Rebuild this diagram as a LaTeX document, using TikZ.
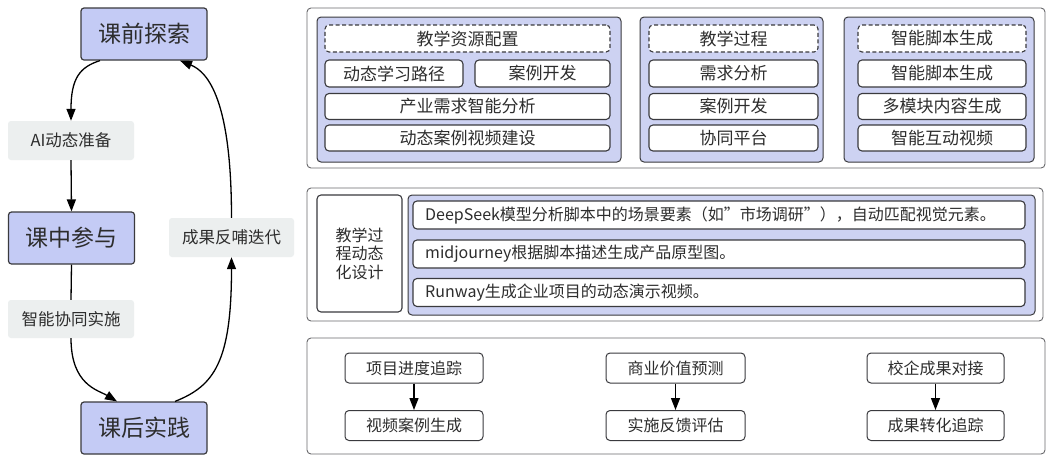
\documentclass[tikz,border=0pt]{standalone}
\usepackage{fontspec}
\setmainfont{Noto Sans CJK SC}
\usetikzlibrary{arrows.meta,calc}
\definecolor{bluefill}{RGB}{196,203,245}
\definecolor{grpfill}{RGB}{205,210,242}
\definecolor{lblfill}{RGB}{236,239,239}
\definecolor{edgec}{RGB}{58,58,62}
\definecolor{panelc}{RGB}{105,105,108}
\definecolor{txt}{RGB}{45,45,45}
\begin{document}
\begin{tikzpicture}[x=1pt,y=-1pt,
  stage/.style={draw=edgec, line width=1.2pt, fill=bluefill, rounded corners=3pt, inner sep=0pt, text=txt, font=\fontsize{23}{26}\selectfont},
  lbl/.style={fill=lblfill, rounded corners=3pt, inner sep=0pt, text=txt, font=\fontsize{16.5}{20}\selectfont},
  panel/.style={draw=panelc, line width=0.9pt, fill=white, rounded corners=4pt},
  grp/.style={draw=edgec, line width=1pt, fill=grpfill, rounded corners=4pt},
  item/.style={draw=edgec, line width=1.1pt, fill=white, rounded corners=4pt, inner sep=0pt, text=txt, font=\fontsize{17}{20}\selectfont},
  dashitem/.style={item, dash pattern=on 4pt off 2.5pt},
  rowitem/.style={item, font=\fontsize{16}{20}\selectfont, minimum width=612pt, minimum height=28pt},
  arr/.style={-{Triangle[length=12pt,width=9pt]}, line width=1.3pt, black}
]
\useasboundingbox (0,0) rectangle (1048,456);
\fill[white] (0,0) rectangle (1048,456);

% ---------------- left cycle ----------------
\node[stage, minimum width=126pt, minimum height=52pt] (pre) at (144,34) {课前探索};
\node[lbl, minimum width=126pt, minimum height=39pt] (ai) at (71,140.5) {AI动态准备};
\node[stage, minimum width=126pt, minimum height=52pt] (mid) at (71.5,238) {课中参与};
\node[lbl, minimum width=126pt, minimum height=38pt] (zn) at (71,319) {智能协同实施};
\node[stage, minimum width=126pt, minimum height=52pt] (post) at (144,428) {课后实践};
\node[lbl, minimum width=125pt, minimum height=39pt] (cg) at (231.5,237.5) {成果反哺迭代};

\draw[arr] ($(pre.south)+(-44,0)$) .. controls (80,67) and (71,78) .. (ai.north);
\draw[arr] (ai.south) -- (mid.north);
\draw[line width=1.3pt] (mid.south) -- (zn.north);
\draw[arr] (zn.south) .. controls (71,385) and (98,390) .. ($(post.north)+(-27,0)$);
\draw[arr] ($(post.north)+(31,0)$) .. controls (214,386) and (231.5,362) .. (cg.south);
\draw[arr] (cg.north) .. controls (231.5,100) and (208,72) .. ($(pre.south)+(36,0)$);

% ---------------- panel 1 ----------------
\draw[panel] (307,8) rectangle (1045,168);
\draw[grp] (317,17) rectangle (621,162);
\draw[grp] (640,17) rectangle (823,162);
\draw[grp] (844,17) rectangle (1034,162);

\node[dashitem, minimum width=285pt, minimum height=27pt] (g1h) at (467.5,38.5) {教学资源配置};
\node[item, minimum width=138pt, minimum height=27pt] (g1a) at (394,73.5) {动态学习路径};
\node[item, minimum width=135pt, minimum height=27pt] (g1b) at (542.5,73.5) {案例开发};
\node[item, minimum width=285pt, minimum height=26pt] (g1c) at (467.5,106.5) {产业需求智能分析};
\node[item, minimum width=285pt, minimum height=26pt] (g1d) at (467.5,138) {动态案例视频建设};

\node[dashitem, minimum width=169pt, minimum height=27pt] (g2h) at (733.5,38.5) {教学过程};
\node[item, minimum width=169pt, minimum height=27pt] (g2a) at (733.5,73.5) {需求分析};
\node[item, minimum width=169pt, minimum height=26pt] (g2b) at (733.5,106.5) {案例开发};
\node[item, minimum width=169pt, minimum height=26pt] (g2c) at (733.5,138) {协同平台};

\node[dashitem, minimum width=168pt, minimum height=27pt] (g3h) at (942,38.5) {智能脚本生成};
\node[item, minimum width=168pt, minimum height=27pt] (g3a) at (942,73.5) {智能脚本生成};
\node[item, minimum width=168pt, minimum height=26pt] (g3b) at (942,106.5) {多模块内容生成};
\node[item, minimum width=168pt, minimum height=26pt] (g3c) at (942,138) {智能互动视频};

% ---------------- panel 2 ----------------
\draw[panel] (307,188) rectangle (1043,321);
\node[item, minimum width=85pt, minimum height=117pt, align=center, font=\fontsize{16}{18.5}\selectfont] (dyn) at (359.5,253.5) {教学过\\程动态\\化设计};
\draw[grp] (408,195) rectangle (1035,315);
\node[rowitem] (r1) at (719,215) {};
\node[rowitem] (r2) at (719,254) {};
\node[rowitem] (r3) at (719,292.5) {};
\node[anchor=west, inner sep=0pt, text=txt, font=\fontsize{16}{20}\selectfont] (t1) at (425,215) {DeepSeek模型分析脚本中的场景要素（如"市场调研"），自动匹配视觉元素。};
\node[anchor=west, inner sep=0pt, text=txt, font=\fontsize{16}{20}\selectfont] (t2) at (425,254) {midjourney根据脚本描述生成产品原型图。};
\node[anchor=west, inner sep=0pt, text=txt, font=\fontsize{16}{20}\selectfont] (t3) at (425,292.5) {Runway生成企业项目的动态演示视频。};

% ---------------- panel 3 ----------------
\draw[panel] (307,338) rectangle (1045,454);
\tikzset{small/.style={item, line width=1pt, font=\fontsize{16}{20}\selectfont, minimum height=30pt}}
\node[small, minimum width=138pt] (p1) at (414,368) {项目进度追踪};
\node[small, minimum width=138pt] (q1) at (414,425.5) {视频案例生成};
\node[small, minimum width=139pt] (p2) at (675.5,368) {商业价值预测};
\node[small, minimum width=139pt] (q2) at (675.5,425.5) {实施反馈评估};
\node[small, minimum width=137pt] (p3) at (935.5,368) {校企成果对接};
\node[small, minimum width=137pt] (q3) at (935.5,425.5) {成果转化追踪};
\draw[arr] (p1) -- (q1);
\draw[arr] (p2) -- (q2);
\draw[arr] (p3) -- (q3);
\end{tikzpicture}
\end{document}
